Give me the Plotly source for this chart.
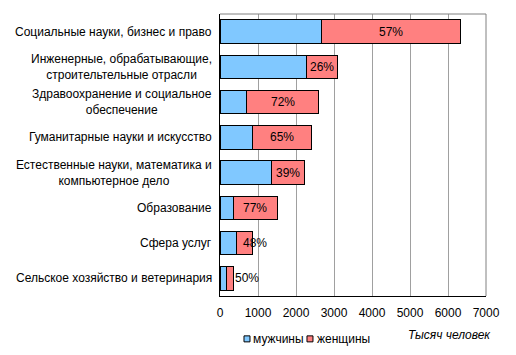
import plotly.graph_objects as go

categories = [
    "Социальные науки, бизнес и право",
    "Инженерные, обрабатывающие,<br>строительтельные отрасли",
    "Здравоохранение и социальное<br>обеспечение",
    "Гуманитарные науки и искусство",
    "Естественные науки, математика и<br>компьютерное дело",
    "Образование",
    "Сфера услуг",
    "Сельское хозяйство и ветеринария",
]
men = [2684, 2282, 703, 842, 1353, 342, 440, 170]
women = [3632, 807, 1902, 1553, 858, 1184, 405, 172]
pct_labels = ["57%", "26%", "72%", "65%", "39%", "77%", "48%", "50%"]
x_ticks = [0, 1000, 2000, 3000, 4000, 5000, 6000, 7000]
series_names = ["мужчины", "женщины"]
series_colors = ["#80c8ff", "#ff8080"]

FONT = "Liberation Sans, Arial, sans-serif"
ids = list(range(len(categories)))

fig = go.Figure()
for name, vals, col in zip(series_names, [men, women], series_colors):
    fig.add_trace(go.Bar(
        y=ids, x=vals, orientation="h", name=name,
        marker=dict(color=col, line=dict(color="#000000", width=1)),
    ))

annotations = []
for i, cat in enumerate(categories):
    annotations.append(dict(
        x=0, xref="paper", y=i, yref="y", text=cat, showarrow=False,
        xanchor="right", yanchor="middle", align="center", xshift=-6,
        font=dict(family=FONT, size=12, color="#000000"),
    ))
shifts = [0, 0, 0, 0, 0, 0, 11, 0]
for i, lab in enumerate(pct_labels):
    if i == len(pct_labels) - 1:
        annotations.append(dict(
            x=men[i] + women[i], y=i, text=lab, showarrow=False,
            xanchor="left", yanchor="middle", xshift=0,
            font=dict(family=FONT, size=12, color="#000000"),
        ))
    else:
        annotations.append(dict(
            x=men[i] + women[i] / 2, y=i, text=lab, showarrow=False,
            xanchor="center", yanchor="middle", xshift=shifts[i],
            font=dict(family=FONT, size=12, color="#000000"),
        ))
annotations.append(dict(
    x=1.026, xref="paper", y=-0.14, yref="paper", text="<i>Тысяч человек</i>",
    showarrow=False, xanchor="right", yanchor="middle",
    font=dict(family=FONT, size=12, color="#000000"),
))

# custom compact legend (small squares like the source)
legend_sq_x = [0.0902, 0.327]
legend_txt_x = [0.118, 0.357]
legend_y = -0.152
shapes = [
    dict(type="line", xref="paper", yref="paper", x0=0, x1=1, y0=1, y1=1,
         line=dict(color="#808080", width=1)),
    dict(type="line", xref="paper", yref="paper", x0=1, x1=1, y0=0, y1=1,
         line=dict(color="#808080", width=1)),
]
for sx, tx, name, col in zip(legend_sq_x, legend_txt_x, series_names, series_colors):
    shapes.append(dict(
        type="rect", xref="paper", yref="paper",
        xsizemode="pixel", ysizemode="pixel", xanchor=sx, yanchor=legend_y,
        x0=0, x1=6, y0=-3, y1=3, fillcolor=col,
        line=dict(color="#000000", width=1),
    ))
    annotations.append(dict(
        x=tx, xref="paper", y=legend_y, yref="paper", text=name,
        showarrow=False, xanchor="left", yanchor="middle",
        font=dict(family=FONT, size=12, color="#000000"),
    ))

fig.update_layout(
    width=500, height=339,
    margin=dict(l=212, r=22, t=6, b=51),
    barmode="stack", bargap=0.34,
    plot_bgcolor="#ffffff", paper_bgcolor="#ffffff",
    font=dict(family=FONT, size=12, color="#000000"),
    showlegend=False,
    annotations=annotations,
    shapes=shapes,
    xaxis=dict(
        range=[0, 7000], tickvals=x_ticks, showgrid=True, gridcolor="#a0a0a0",
        gridwidth=1, zeroline=False, showline=True, linecolor="#000000",
        mirror=False, ticks="outside", ticklen=6, tickcolor="rgba(0,0,0,0)",
        tickfont=dict(family=FONT, size=12),
    ),
    yaxis=dict(
        range=[len(categories) - 0.5, -0.5], showticklabels=False,
        showgrid=False, zeroline=False, showline=True, linecolor="#000000",
        ticks="",
    ),
)

fig.write_html("out.html")
